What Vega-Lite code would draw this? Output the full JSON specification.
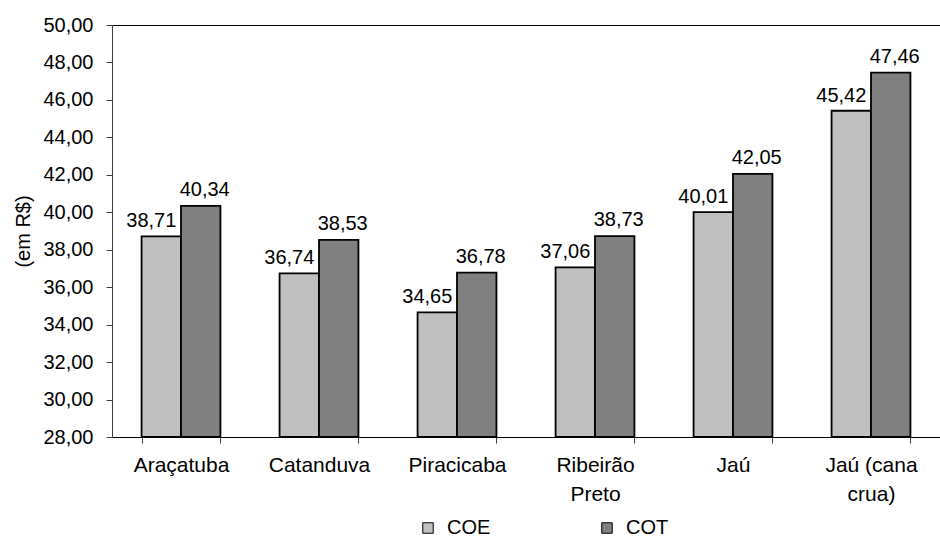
{
  "$schema": "https://vega.github.io/schema/vega-lite/v6.json",
  "width": 828,
  "height": 412,
  "autosize": {"type": "none"},
  "padding": {"left": 112, "top": 25, "right": 0, "bottom": 101},
  "background": "white",
  "config": {
    "view": {"stroke": null},
    "font": "Liberation Sans",
    "locale": {"number": {"decimal": ",", "thousands": ".", "grouping": [3], "currency": ["R$", ""]}},
    "legend": {
      "orient": "none",
      "legendX": 306,
      "legendY": 493,
      "direction": "horizontal",
      "padding": 0,
      "symbolType": "square",
      "symbolSize": 110,
      "symbolStrokeColor": "black",
      "symbolStrokeWidth": 1,
      "symbolOpacity": 1,
      "labelFontSize": 20,
      "labelColor": "black",
      "labelOffset": 9,
      "columnPadding": 106
    }
  },
  "data": {
    "values": [
      {"regiao": "Araçatuba", "custo": "COE", "valor": 38.71},
      {"regiao": "Araçatuba", "custo": "COT", "valor": 40.34},
      {"regiao": "Catanduva", "custo": "COE", "valor": 36.74},
      {"regiao": "Catanduva", "custo": "COT", "valor": 38.53},
      {"regiao": "Piracicaba", "custo": "COE", "valor": 34.65},
      {"regiao": "Piracicaba", "custo": "COT", "valor": 36.78},
      {"regiao": "Ribeirão Preto", "custo": "COE", "valor": 37.06},
      {"regiao": "Ribeirão Preto", "custo": "COT", "valor": 38.73},
      {"regiao": "Jaú", "custo": "COE", "valor": 40.01},
      {"regiao": "Jaú", "custo": "COT", "valor": 42.05},
      {"regiao": "Jaú (cana crua)", "custo": "COE", "valor": 45.42},
      {"regiao": "Jaú (cana crua)", "custo": "COT", "valor": 47.46}
    ]
  },
  "encoding": {
    "x": {
      "field": "regiao",
      "type": "nominal",
      "sort": null,
      "scale": {"paddingInner": 0.4286, "paddingOuter": 0.2143},
      "axis": {
        "title": null,
        "labelAngle": 0,
        "labelFontSize": 21,
        "labelColor": "black",
        "labelLineHeight": 29,
        "labelPadding": 11,
        "tickBand": "extent",
        "tickSize": 6,
        "tickColor": "#404040",
        "domainColor": "black",
        "domainWidth": 1,
        "labelExpr": "datum.label == 'Ribeirão Preto' ? ['Ribeirão', 'Preto'] : datum.label == 'Jaú (cana crua)' ? ['Jaú (cana', 'crua)'] : datum.label"
      }
    },
    "xOffset": {
      "field": "custo",
      "type": "nominal",
      "sort": ["COE", "COT"],
      "scale": {"paddingInner": 0, "paddingOuter": 0}
    },
    "y": {
      "field": "valor",
      "type": "quantitative",
      "scale": {"domain": [28, 50], "nice": false, "zero": false},
      "axis": {
        "title": "(em R$)",
        "titleFontSize": 20,
        "titleFontWeight": "normal",
        "titleColor": "black",
        "titlePadding": 9,
        "values": [28, 30, 32, 34, 36, 38, 40, 42, 44, 46, 48, 50],
        "format": ".2f",
        "labelFontSize": 20,
        "labelColor": "black",
        "labelPadding": 13,
        "tickSize": 6,
        "tickColor": "#404040",
        "domainColor": "#404040",
        "grid": true,
        "gridColor": "black",
        "gridOpacity": {"condition": {"test": "datum.value == 50", "value": 1}, "value": 0}
      }
    }
  },
  "layer": [
    {
      "mark": {"type": "bar", "stroke": "black", "strokeWidth": 1.8},
      "encoding": {
        "y2": {"datum": 28},
        "color": {
          "field": "custo",
          "type": "nominal",
          "scale": {"domain": ["COE", "COT"], "range": ["#c0c0c0", "#808080"]},
          "legend": {"title": null}
        }
      }
    },
    {
      "transform": [{"filter": "datum.custo == 'COE'"}],
      "mark": {"type": "text", "dx": -10, "dy": -9, "baseline": "alphabetic", "fontSize": 20, "color": "black"},
      "encoding": {"text": {"field": "valor", "type": "quantitative", "format": ".2f"}}
    },
    {
      "transform": [{"filter": "datum.custo == 'COT'"}],
      "mark": {"type": "text", "dx": 4, "dy": -10, "baseline": "alphabetic", "fontSize": 20, "color": "black"},
      "encoding": {"text": {"field": "valor", "type": "quantitative", "format": ".2f"}}
    }
  ]
}
